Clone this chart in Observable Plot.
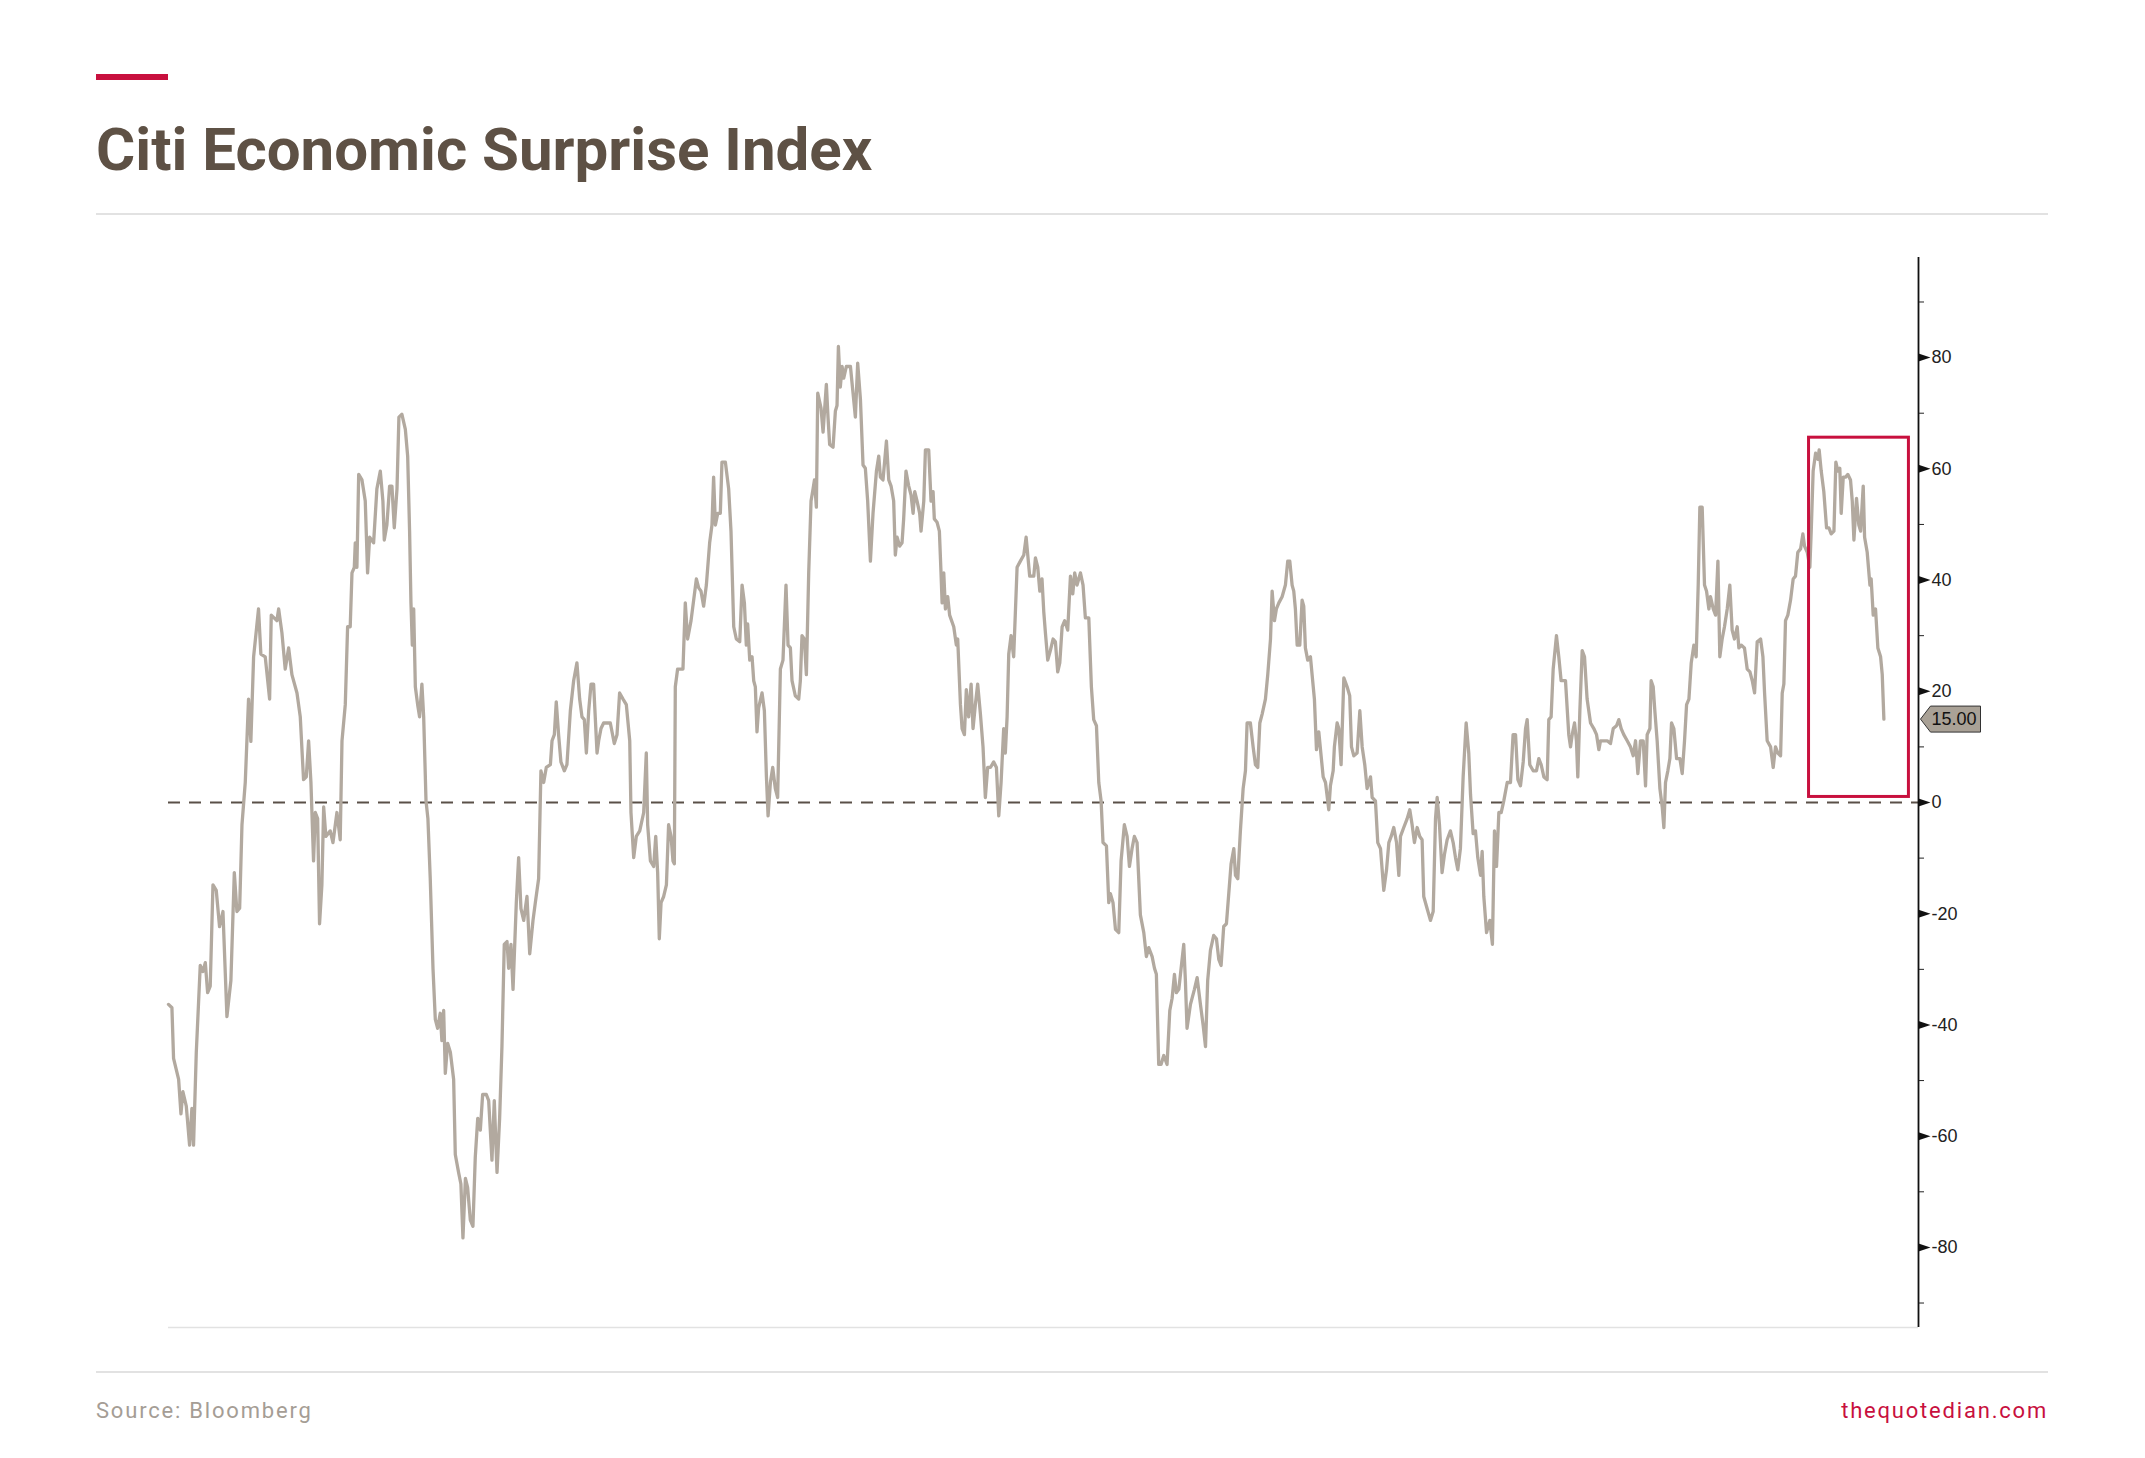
<!DOCTYPE html>
<html><head><meta charset="utf-8">
<script src="https://cdn.jsdelivr.net/npm/d3@7"></script>
<script src="https://cdn.jsdelivr.net/npm/@observablehq/plot@0.6"></script>
<style>
html,body{margin:0;padding:0;background:#fff;}
#page{position:relative;width:2145px;height:1458px;overflow:hidden;font-family:Roboto,"Liberation Sans",sans-serif;}
.bar{position:absolute;left:96px;top:74px;width:72px;height:6px;background:#c8103e;}
h1{position:absolute;left:96px;top:120px;margin:0;font-size:60px;line-height:60px;font-weight:700;color:#5e5145;white-space:nowrap;}
.rule{position:absolute;left:96px;width:1952px;height:2px;background:#e2e2e2;}
#chart{position:absolute;left:0;top:240px;}
.foot{position:absolute;top:1400px;font-size:22px;line-height:22px;letter-spacing:1.8px;white-space:nowrap;}
</style></head>
<body><div id="page">
<div class="bar"></div>
<h1>Citi Economic Surprise Index</h1>
<div class="rule" style="top:213px"></div>
<div id="chart"></div>
<div class="rule" style="top:1371px"></div>
<div class="foot" style="left:96px;color:#a59d95">Source: Bloomberg</div>
<div class="foot" style="right:97px;color:#c8103e">thequotedian.com</div>
</div>
<script>
// [observation index, index value]
const csiSeries = [
[0,-36.3],[2.5,-36.9],[3.7,-46],[7.4,-49.8],[9.1,-56],[10.5,-52],[13,-54.6],[15.4,-61.6],[17.1,-55],[18.3,-61.6],[20.3,-45],[23.2,-29.3],[25.1,-30.4],[26.9,-28.8],[28.6,-34.2],[30.5,-33],[32.5,-14.8],[34.9,-15.8],[37.3,-22.3],[39.8,-19.6],[42.7,-38.5],[45.6,-32],[48.1,-12.6],[50,-19.6],[52,-19],[53.7,-4],[56.1,3.6],[58.5,18.6],[60.2,11],[62.2,26.2],[65.8,34.8],[67.5,26.7],[70.7,26.2],[73.9,18.6],[75.1,33.7],[79.2,32.7],[80.5,34.8],[82.9,30.5],[85.3,24],[87.8,27.8],[90.2,23],[93.9,19.7],[96.3,15.4],[98.7,4.1],[100.7,4.6],[102.4,11.1],[104.1,3.6],[106,-10.5],[107.3,-1.8],[109,-2.9],[110.4,-21.8],[112.1,-14.8],[113.4,-0.8],[115,-6.1],[118.2,-5.1],[120.2,-7.2],[123.1,-1.8],[125.5,-6.7],[126.8,11.1],[129.2,17.6],[130.9,31.6],[132.8,31.6],[134.1,41.3],[135.8,42.3],[136.5,46.7],[137.7,42.3],[139,59],[141.4,58],[143.8,54.2],[145.5,41.3],[147,47.7],[149.9,46.7],[152.3,56.4],[154.8,59.6],[156.7,54.2],[157.7,47.2],[159.6,49.9],[161.6,56.9],[163.3,56.9],[165,49.4],[167,56.4],[168.4,69.3],[170.6,69.8],[173.1,67.1],[174.8,62.3],[176.2,48.8],[177.2,35.9],[178.2,28.3],[179.2,34.8],[180.4,20.8],[182.1,17.6],[183.5,15.4],[185.2,21.3],[186.5,15.4],[188.2,0.3],[189.6,-2.9],[191.3,-13.7],[193.3,-29.8],[195,-39],[196.7,-40.6],[198.6,-37.9],[199.8,-42.8],[201.1,-37.4],[202.3,-48.7],[204,-43.3],[206,-44.9],
[208.4,-49.8],[209.6,-63.3],[212,-66.5],[213.7,-68.6],[215.2,-78.3],[217,-67.6],[218.6,-69.2],[220.6,-75.1],[222.5,-76.2],[224.2,-63.8],[226,-56.8],[227.9,-58.9],[229.6,-52.5],[232.3,-52.5],[234,-53.6],[236.4,-64.3],[238.1,-53.6],[240.1,-66.5],[242,-56.8],[243.7,-43.9],[245.4,-25.5],[247.4,-25],[248.6,-29.8],[250.3,-25.5],[251.8,-33.6],[254.2,-18],[255.9,-9.9],[257.6,-19.1],[259.6,-21.2],[262,-16.9],[264,-27.2],[266.4,-21.2],[268.1,-18],[270.5,-13.7],[272.2,5.7],[274.2,3.6],[276.1,6.3],[279.1,6.8],[280.3,11.1],[282,12.2],[283.4,18.1],[285.1,12.2],[286.8,7.3],[289.3,5.7],[291.2,6.8],[293.7,16.5],[296.1,21.9],[298.5,25.1],[300.5,18.6],[302.2,15.4],[303.9,14.9],[305.4,8.9],[307.1,16.5],[308.8,21.3],[310.7,21.3],[313.2,8.9],[314.4,11.1],[316.1,13.3],[318,14.3],[320.5,14.3],[322.9,14.3],[325.8,10.6],[327.8,12.2],[329.7,19.7],[332.2,18.6],[334.6,17.6],[337.1,11.1],[338,-1.8],[340,-9.9],[341.9,-6.1],[344.4,-5.1],[347.3,-1.8],[349.2,8.9],[350.2,-4],[352.2,-10.5],[354.6,-11.5],[356.1,-6.1],[357.5,-12.6],[358.7,-24.5],[360,-18],[361.9,-16.9],[363.9,-14.8],[365.5,-4],[367.3,-6.1],[368.7,-10.5],[369.7,-11],[370.4,20.8],[372.1,24],[376,24],[377.7,35.9],[379.4,29.4],[381.9,32.7],[385.8,40.2],[387.5,38.6],[389.2,38],[391.1,35.3],[393.1,39.1],[395.5,46.7],[397.2,49.9],[398.4,58.5],[399.7,49.9],[401.4,52],[403.3,52],[404.5,61.2],[407,61.2],[409.4,56.4],[411.1,48.8],[413.1,31.6],[415,29.4],[417.5,28.9],
[419.2,39.1],[420.9,35.9],[422.3,28.3],[423.3,32.1],[424.8,25.6],[426.5,26.2],[427.7,21.9],[428.9,20.8],[430.1,12.7],[431.3,17],[433.8,19.7],[435.5,16.5],[437,4.6],[438.2,-2.4],[439.9,3.6],[441.6,6.3],[443.5,2.5],[445.2,0.9],[447.2,24],[449.1,25.6],[451.3,39.1],[452.8,28.3],[454.5,27.8],[455.7,21.9],[458.1,19.2],[460.6,18.6],[461.8,21.9],[463,30],[464.7,29.4],[466.2,23],[467.9,41.3],[469.6,54.2],[471.1,56.4],[472.1,58],[473.5,53.1],[474.5,73.6],[476.9,70.9],[478.4,66.6],[480.8,75.2],[482,69.3],[483.2,64.4],[485.7,63.9],[487.4,70.4],[488.6,71.4],[489.6,82],[491,74.7],[492.3,78.4],[493.5,76.3],[495.4,78.4],[498.4,78.4],[500.3,73.6],[502,69.3],[503.7,79],[505.7,72.5],[507.6,60.7],[509.3,60.1],[511,54.2],[513,43.4],[514.9,52],[517.4,59.6],[519.1,62.3],[520.3,58.5],[522.2,58],[524.7,65],[526.4,58],[528.1,56.9],[530,54.2],[531.2,44.5],[532.5,47.7],[534.4,46.1],[536.1,46.7],[537.3,51],[539,59.6],[541,56.9],[542.7,55.3],[544.2,52],[545.4,55.9],[547.1,54.2],[549,52],[550,48.8],[552,54.2],[553.2,63.4],[555.6,63.4],[557.3,54.2],[558.8,55.9],[559.7,51],[561.7,50.4],[563.4,48.8],[564.6,41.3],[565.4,35.9],[566.6,41.3],[567.8,34.8],[569.5,37],[570.9,33.7],[573.9,31.6],[575.8,28.3],[576.8,29.4],[578.8,17.6],[580,13.3],[581.7,12.2],[583.1,20.3],[584.8,15.4],[586.6,21.3],[588,13.3],[589.7,17.6],[591.4,21.3],[593.4,15.9],[595.3,10],[597,0.9],[598.7,6.3],[600.7,6.3],[603.1,7.3],[605.1,6.3],[606.8,-2.4],[608.5,3.6],[610.4,13.3],[611.6,8.9],[612.9,15.4],[614.1,26.7],[615.8,30],[617.7,26.2],[620.2,42.3],[622.6,43.4],[625.1,44.5],[626.8,47.7],[628,44.5],[629.4,40.7],[632.4,40.7],[633.6,44],[635.3,42.3],[636.8,38],
[638.4,40.2],[639.7,34.3],[640.9,30.5],[642.6,25.6],[644.5,27.3],[646.5,29.4],[648.2,28.9],[649.9,23.5],[651.4,25.1],[653.1,31.6],[655,32.7],[657.2,31],[659.2,40.7],[660.9,37.5],[662.3,41.3],[664,39.1],[666.5,41.3],[668.4,39.1],[670.1,33.2],[672.6,33.2],[674.5,20.8],[676.2,14.9],[678.2,13.8],[679.9,3.6],[681.6,0.3],[683,-7.2],[685.5,-7.8],[687.2,-18],[688.4,-16.4],[690.3,-18],[692.1,-22.8],[694.5,-23.4],[696.2,-10.5],[698.6,-4],[700.6,-6.1],[702.3,-11.5],[704.2,-8.3],[705.9,-6.1],[707.9,-7.2],[710.3,-20.2],[712.8,-23.4],[714.7,-27.7],[716.4,-26.1],[718.9,-27.7],[720.6,-29.8],[722,-30.9],[723.7,-47.1],[725.4,-47.1],[727.4,-45.5],[729.8,-47.1],[731.8,-37.4],[733.5,-35.2],[735.2,-30.9],[736.6,-34.2],[738.4,-33.6],[740.3,-29.3],[742,-25.5],[743.2,-32],[744.4,-40.6],[746.9,-36.3],[749.8,-33.6],[751.8,-31.5],[754.2,-36.3],[756.2,-40.1],[757.9,-43.9],[759.5,-32],[761.5,-26.6],[763.9,-23.9],[765.9,-24.5],[767.6,-28.2],[769.3,-29.3],[771.2,-22.3],[773.2,-21.8],[774.9,-16.4],[776.6,-11],[778.6,-8.3],[779.8,-13.1],[781.5,-13.7],[783.4,-5.1],[785.4,2.5],[787.1,5.7],[788.3,14.3],[790.7,14.3],[792.7,10],[794.4,6.8],[796.1,6.3],[797.6,14.3],[799.3,15.9],[801.7,18.6],[803.4,23],[805.4,29.4],[806.6,38],[808.3,32.7],[809.7,34.8],[811.5,35.9],[813.9,37],[816.3,39.1],[818,43.4],[819.5,43.4],[821.2,39.1],[822.4,38],[823.6,34.8],[824.9,28.3],[826.8,28.3],[828.5,36.4],[829.7,35.3],[830.9,27.8],[832.6,25.6],[834.6,26.2],[835.8,23],[837.5,18.6],[839,9.5],[840.7,12.7],
[843.9,4.6],[845.6,3.6],[848,-1.3],[849.2,3],[851.2,5.7],[852.1,10],[854.1,14.3],[855.3,13.3],[857,6.8],[859,22.4],[861.4,20.8],[863.3,19.2],[864.6,10],[866.3,8.4],[868.7,8.9],[870.7,16.5],[872.4,10],[874.3,6.8],[876,2.5],[878.5,4.6],[879.7,0.9],[882.1,0.3],[883.8,-7.2],[885.8,-8.3],[888.2,-15.8],[890.2,-12.1],[891.9,-7.2],[893.6,-6.1],[895.5,-4.5],[897.5,-7.2],[899.2,-13.1],[900.4,-6.1],[902.8,-4.5],[905.3,-2.9],[907.2,-1.3],[908.9,-4],[910.6,-7.2],[912.6,-4.5],[914.5,-6.1],[916.2,-6.7],[917.4,-16.9],[919.9,-19.1],[922.3,-21.2],[924.3,-19.6],[926,-2.9],[927.2,0.9],[928.9,-4],[930.8,-12.6],[932.5,-9.4],[934.5,-6.7],[936.9,-5.1],[938.9,-7.2],[940.6,-9.9],[942.3,-12.1],[944.2,-8.3],[946.2,4.6],[948.4,14.3],[950.3,8.9],[951.6,1.4],[953.5,-5.6],[955.2,-5.1],[956.9,-9.9],[958.9,-13.1],[960.1,-8.8],[961.3,-16.9],[963.3,-23.4],[965.7,-21.2],[967.6,-25.5],[969.1,-5.1],[970.6,-11.5],[972.3,-1.8],[974,-1.8],[975.9,0.3],[978.4,3.6],[980.8,3.6],[982.7,12.2],[984.5,12.2],[986.2,4.1],[988.1,3],[990.1,7.3],[991.8,13.3],[993,14.9],[994.9,6.8],[997.4,5.7],[999.8,5.7],[1001.5,7.9],[1003.2,6.8],[1005.2,4.6],[1007.6,4.1],[1008.8,14.9],[1010.5,15.4],[1012,24],[1014.4,30],[1016.1,26.2],[1017.8,21.9],[1021,21.9],[1023.4,12.2],[1024.7,10],[1025.9,12.2],[1027.6,14.3],[1029,11.1],[1030,4.6],[1031.5,16.5],[1033.2,27.3],[1034.9,26.2],[1036.8,18.6],[1039.3,14.3],[1041.7,13.3],[1043.7,12.2],[1045.4,9.5],
[1046.6,11.1],[1049,11.1],[1051.5,11.1],[1053.9,10.6],[1055.9,13.3],[1058.3,13.8],[1060,14.9],[1061.7,13.3],[1063.6,12.2],[1066.1,11.1],[1068.5,10],[1070.5,8.4],[1072.2,11.1],[1073.9,5.2],[1075.8,11.1],[1077.8,11.1],[1079.5,3],[1080.7,12.2],[1082.7,13.3],[1083.6,21.9],[1085.1,20.8],[1086.3,16.5],[1088,11.1],[1090,2.5],[1091.7,-0.8],[1092.9,-4.5],[1094.1,3.6],[1095.8,5.7],[1097.3,7.9],[1098.5,14.3],[1100.2,13.3],[1102.2,7.9],[1104.6,7.9],[1106.3,5.2],[1108,11.1],[1109.5,17.6],[1111.2,18.6],[1112.9,25.1],[1114.8,28.3],[1116.5,26.2],[1118,39.1],[1119.2,53.1],[1120.9,53.1],[1122.6,39.1],[1124.1,38],[1125.8,34.8],[1127,37],[1129,34.8],[1130.7,33.7],[1132.4,43.4],[1133.8,26.2],[1135.5,29.4],[1137.2,31.6],[1139.2,34.8],[1141.1,39.1],[1142.8,31],[1144.5,29.4],[1146.5,31.6],[1147.7,27.8],[1149.4,28.3],[1151.8,27.8],[1153.8,24],[1155.8,23.5],[1157.5,21.9],[1159.2,19.7],[1161.1,28.9],[1163.6,29.4],[1165.3,26.2],[1166.5,19.7],[1168.4,11.1],[1170.9,10],[1172.8,6.3],[1174.5,10],[1176.2,8.9],[1178.2,8.4],[1179.4,19.7],[1180.6,21.3],[1181.8,32.7],[1183.5,33.7],[1185.5,36.4],[1187.4,40.2],[1189.1,40.7],[1190.8,45],[1192.8,45.6],[1194.5,48.3],[1195.7,46.1],[1197.7,45],[1199.6,42.3],[1200.6,48.8],[1202,59.6],[1203.8,62.8],[1205.5,61.7],[1206.4,63.4],[1207.9,59.6],[1209.8,55.9],[1211.8,49.4],[1213.5,49.4],[1215.2,48.3],[1217.2,48.8],[1218.6,61.2],[1220.1,59.6],[1221.5,60.1],[1222.5,52],[1224,58.5],[1225.7,58.5],[1227.4,59],[1229.3,58],[1230.6,54.2],[1231.8,47.2],[1233.7,54.7],[1235.4,49.9],[1236.7,48.8],[1238.6,56.9],[1239.6,47.7],[1241.5,45],[1243.5,39.1],[1244.4,40.2],[1245.9,33.7],[1247.6,34.8],[1249.3,27.8],[1251.3,26.2],[1252.5,23],[1253.7,15]
];
const xDomain = [0, 1279];
const yDomain = [-94.4, 98];
const majorTicks = [-80, -60, -40, -20, 0, 20, 40, 60, 80];
const minorTicks = [-90, -70, -50, -30, -10, 10, 30, 50, 70, 90];
const highlightBox = [{x1: 1199, x2: 1272, y1: 1, y2: 65.6}];

const data = csiSeries.map(([t, v]) => ({t, v}));
const last = data[data.length - 1];

const rightTriangle = {draw(ctx, size) {
  const r = Math.sqrt(size / Math.PI);
  ctx.moveTo(0, -r); ctx.lineTo(3 * r, 0); ctx.lineTo(0, r); ctx.closePath();
}};
const priceTag = {draw(ctx) {
  ctx.moveTo(2, 0); ctx.lineTo(12, -13); ctx.lineTo(62, -13);
  ctx.lineTo(62, 13); ctx.lineTo(12, 13); ctx.closePath();
}};

const chart = Plot.plot({
  width: 2145, height: 1110,
  marginLeft: 168, marginRight: 227, marginTop: 17, marginBottom: 23,
  style: {background: "transparent", fontFamily: "'Liberation Sans', Arial, sans-serif", fontSize: "18px", color: "#222", overflow: "visible"},
  x: {domain: xDomain, axis: null},
  y: {domain: yDomain},
  marks: [
    Plot.ruleY([yDomain[0]], {stroke: "#e2e2e2", strokeWidth: 1.5}),
    Plot.ruleY([0], {stroke: "#5a5048", strokeWidth: 2.2, strokeDasharray: "12,9"}),
    Plot.line(data, {x: "t", y: "v", stroke: "#b2a99f", strokeWidth: 3.3, strokeLinejoin: "round"}),
    Plot.rect(highlightBox, {x1: "x1", x2: "x2", y1: "y1", y2: "y2", fill: "none", stroke: "#c8103e", strokeWidth: 3}),
    Plot.ruleX([xDomain[1]], {stroke: "#111", strokeWidth: 1.8}),
    Plot.axisY(minorTicks, {anchor: "right", tickSize: 5, tickFormat: () => "", label: null, stroke: "#222"}),
    Plot.axisY(majorTicks, {anchor: "right", tickSize: 0, tickPadding: 13, tickFormat: d => String(d), label: null, fontSize: 18, fill: "#222"}),
    Plot.dot(majorTicks, {x: () => xDomain[1], y: d => d, r: 4, symbol: rightTriangle, fill: "#111", stroke: "none"}),
    Plot.dot([last], {x: () => xDomain[1], y: "v", r: 4, symbol: priceTag, fill: "#a9a196", stroke: "#333", strokeWidth: 1}),
    Plot.text([last], {x: () => xDomain[1], y: "v", text: d => d3.format(".2f")(d.v), dx: 13, textAnchor: "start", fontSize: 18, fill: "#111"})
  ]
});
document.getElementById("chart").appendChild(chart);
</script>
</body></html>
